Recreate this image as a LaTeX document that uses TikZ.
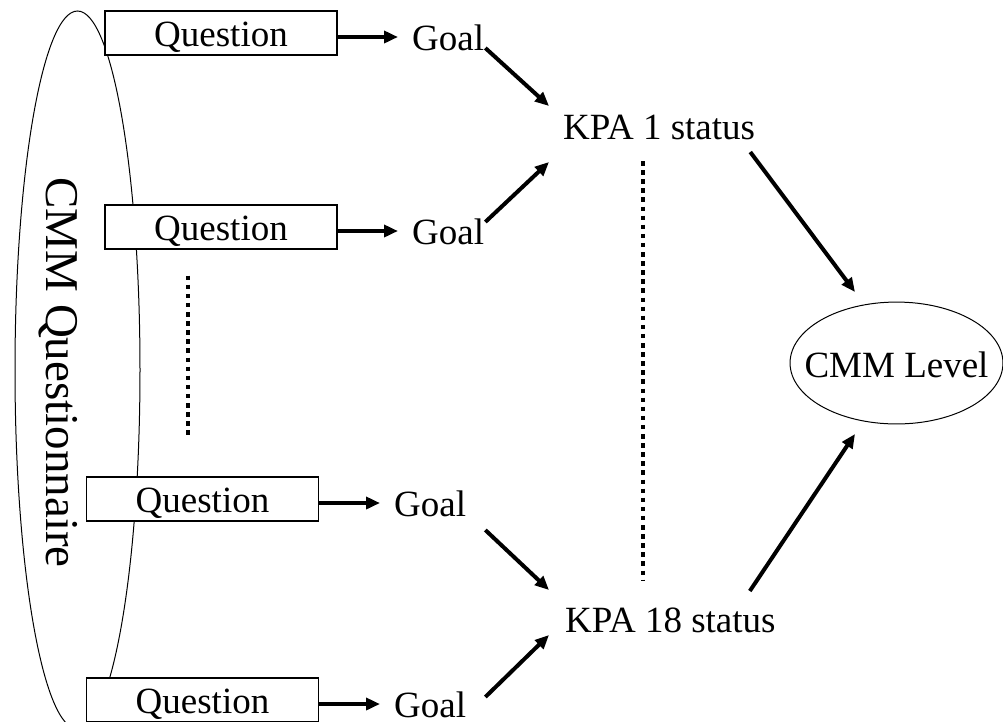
\documentclass[tikz,border=0pt]{standalone}
\usepackage{fontspec}
\setmainfont{Liberation Serif}
\usetikzlibrary{arrows.meta,calc,shapes.geometric}

\begin{document}
\begin{tikzpicture}[x=1pt,y=-1pt,
  txt/.style={inner sep=0pt, font=\fontsize{37}{44}\selectfont},
  lbl/.style={txt, anchor=base west},
  qbox/.style={txt, draw, fill=white, line width=1.2pt,
    minimum width=232pt, minimum height=44pt,
    text height=27.4pt, text depth=0pt},
  arr/.style={line width=4pt, -{Triangle[length=14pt,width=12pt]}},
  dots/.style={line width=4.5pt, dash pattern=on 4.5pt off 4.6pt},
]
\clip (0,0) rectangle (1003,721);

% questionnaire ellipse and its vertical title
\node[draw, ellipse, line width=1pt, minimum width=125pt, minimum height=718pt,
      inner sep=0pt] (qn) at (77.5,370) {};
\node[txt, rotate=-90, anchor=base, font=\fontsize{47}{54}\selectfont]
      (qt) at (46,372.5) {CMM Questionnaire};

% question boxes
\node[qbox] (q1) at (221,33)    {Question};
\node[qbox] (q2) at (221,227)   {Question};
\node[qbox] (q3) at (202.5,499) {Question};
\node[qbox] (q4) at (202.5,700) {Question};

% goals (baseline 17 below the box centre)
\node[lbl] (g1) at (412,50)  {Goal};
\node[lbl] (g2) at (412,244) {Goal};
\node[lbl] (g3) at (394,516) {Goal};
\node[lbl] (g4) at (394,717) {Goal};

% key process area statuses
\node[lbl] (k1) at (563,139) {KPA 1 status};
\node[lbl] (k2) at (565,632) {KPA 18 status};

% resulting maturity level (the ellipse is sized by its inner separation)
\node[txt, draw, ellipse, line width=1pt, text height=28pt, text depth=0pt,
      inner xsep=-16.7pt, inner ysep=29.1pt]
      (lv) at (896.5,363) {CMM Level};

% question -> goal
\foreach \q/\g in {q1/g1,q2/g2,q3/g3,q4/g4}
  \draw[arr] ($(\q.east)+(0,4)$) -- ($(\g.base west)+(-14,-13)$);

% goal -> KPA status
\draw[arr] ($(g1.base east)+(1,-2)$)   -- ($(k1.base west)+(-14,-33)$);
\draw[arr] ($(g2.base east)+(1,-22)$)  -- ($(k1.base west)+(-14,23)$);
\draw[arr] ($(g3.base east)+(19,14)$)  -- ($(k2.base west)+(-16,-42)$);
\draw[arr] ($(g4.base east)+(19,-20)$) -- ($(k2.base west)+(-16,3)$);

% KPA status -> CMM level
\draw[arr] ($(k1.base east)+(-5,13)$)  -- ($(lv.center)+(-41.5,-71)$);
\draw[arr] ($(k2.base east)+(-26,-41)$) -- ($(lv.center)+(-41.5,71)$);

% elided items
\draw[dots] ($(k1.base west)+(80,22)$) -- ($(k2.base west)+(78,-52)$);
\draw[dots] ($(q2.south)+(-33,26)$) -- ($(q3.north)+(-14.5,-40)$);
\end{tikzpicture}
\end{document}
